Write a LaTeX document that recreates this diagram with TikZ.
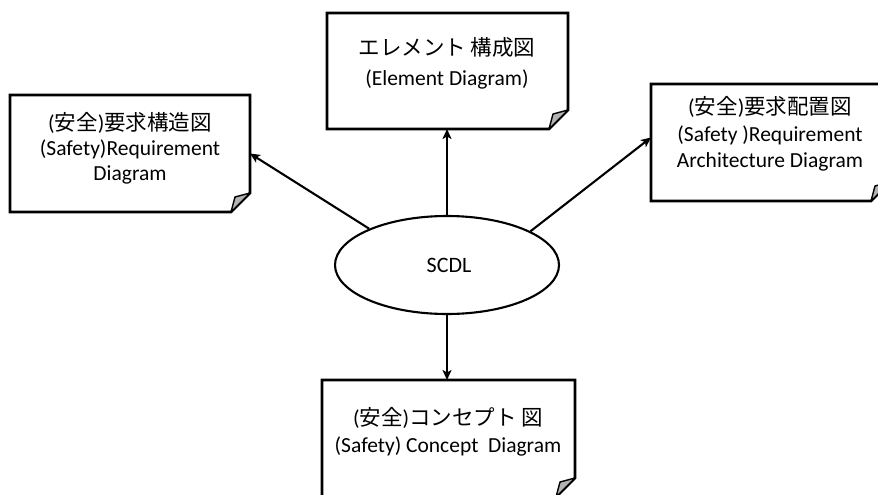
\documentclass[tikz,border=0pt]{standalone}
\usepackage{fontspec}
\setmainfont{Carlito}
\newfontfamily\cjk{Noto Sans CJK JP}
\usetikzlibrary{shapes.geometric,arrows.meta}
\begin{document}
\begin{tikzpicture}[x=1pt,y=-1pt,
  doc/.style={rectangle, draw=none, outer sep=0pt, inner sep=0pt},
  outline/.style={draw=black, line width=2.6pt, line join=miter, fill=white},
  fold/.style={draw=black, line width=1.4pt, fill=black!30, line join=round},
  txt/.style={inner sep=0pt, anchor=base, font=\fontsize{21.5}{26}\selectfont, text=black},
  link/.style={draw=black, line width=2.1pt, -{Stealth[length=10pt,width=9pt,inset=2.5pt]}}]
\useasboundingbox (0,0) rectangle (878,495);
\clip (0,0) rectangle (878,495);

% document boxes (outline drawn below)
\node[doc, minimum width=240, minimum height=117] (b1) at (130,153.5) {};
\node[doc, minimum width=241, minimum height=116] (b2) at (447.5,71) {};
\node[doc, minimum width=239, minimum height=117] (b3) at (770.5,142.5) {};
\node[doc, minimum width=253, minimum height=117] (b4) at (448.5,438.5) {};

% page outlines with a turned-up lower right corner
\foreach \n in {b1,b2,b3,b4}{
  \path[outline] (\n.north west) -- (\n.north east) -- ([yshift=19pt]\n.south east)
     -- ([xshift=-19pt]\n.south east) -- (\n.south west) -- cycle;
  \path[fold] ([xshift=-19pt]\n.south east) -- ([xshift=-15pt,yshift=15pt]\n.south east)
     -- ([yshift=19pt]\n.south east) -- cycle;
}

% central ellipse
\node[ellipse, draw=black, line width=2.1pt, fill=white, minimum width=224, minimum height=98,
      inner sep=0pt, font=\fontsize{22}{26}\selectfont] (e) at (447,265) {\hspace*{4pt}SCDL};

% labels
\node[txt] (t1a) at (130,130) {({\cjk 安全}){\cjk 要求構造図}};
\node[txt] (t1b) at (130,155) {(Safety)Requirement};
\node[txt] (t1c) at (130,180) {Diagram};

\node[txt] (t2a) at (447,56) {\cjk エレメント 構成図};
\node[txt] (t2b) at (447,85) {(Element Diagram)};

\node[txt] (t3a) at (770,114) {({\cjk 安全}){\cjk 要求配置図}};
\node[txt] (t3b) at (770,141) {(Safety )Requirement};
\node[txt] (t3c) at (770,167) {Architecture Diagram};

\node[txt] (t4a) at (448,425) {({\cjk 安全}){\cjk コンセプト 図}};
\node[txt] (t4b) at (448,452) {(Safety) Concept\ \ Diagram};

% connectors
\draw[link] (e.155) -- (b1.east);
\draw[link] (e.north) -- (e.north |- b2.south);
\draw[link] (e.22) -- ([yshift=5pt]b3.west);
\draw[link] (e.south) -- (e.south |- b4.north);
\end{tikzpicture}
\end{document}
